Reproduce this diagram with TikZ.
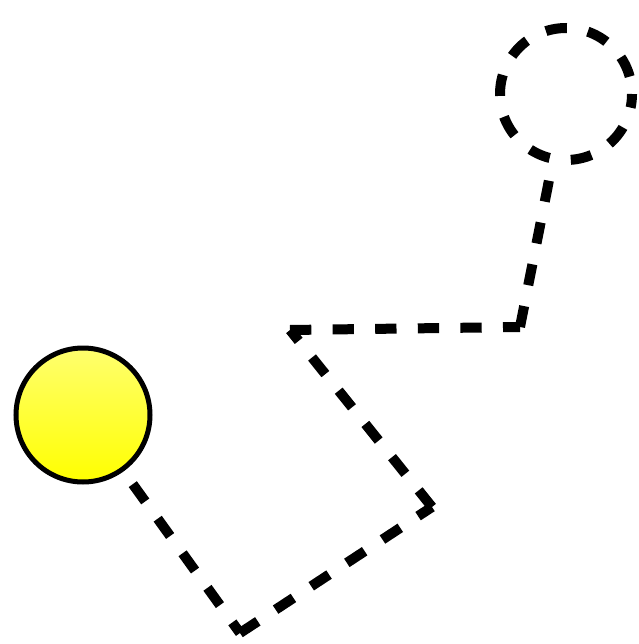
\documentclass[tikz,border=0pt]{standalone}
\usetikzlibrary{backgrounds}
\definecolor{lightyellow}{RGB}{255,255,110}
\tikzset{
  link/.style={line width=10pt, dash pattern=on 21.3pt off 21.3pt},
  sun/.style={circle, draw=black, line width=5pt, minimum size=134pt, inner sep=0pt,
    top color=lightyellow, bottom color=yellow},
  ghost/.style={circle, draw=black, fill=white, line width=10pt, minimum size=132pt,
    inner sep=0pt, dash pattern=on 21.3pt off 21.3pt, dash phase=25pt}
}
\begin{document}
\begin{tikzpicture}[x=1pt,y=-1pt]
\useasboundingbox (0,0) rectangle (638,644);
\node[sun] (sun) at (83,415) {};
\node[ghost] (ghost) at (566,94) {};
\coordinate (a) at (240,633);
\coordinate (b) at (432,507);
\coordinate (c) at (290,330);
\coordinate (d) at (520,327);
\begin{scope}[on background layer]
\draw[link] (sun.center) -- (a);
\draw[link] (a) -- (b);
\draw[link] (b) -- (c);
\draw[link] (c) -- (d);
\draw[link] (d) -- (ghost);
\end{scope}
\end{tikzpicture}
\end{document}
